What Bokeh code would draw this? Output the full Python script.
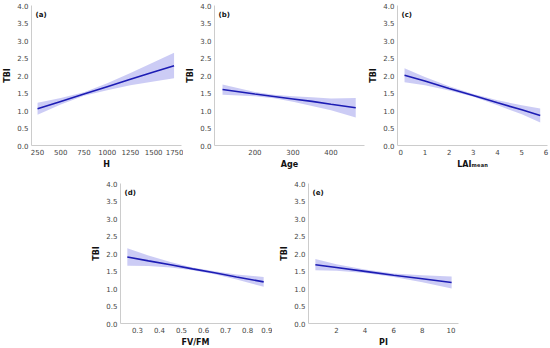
from bokeh.plotting import figure
from bokeh.layouts import row, column, Spacer
from bokeh.models import Range1d, FixedTicker, PrintfTickFormatter, Label
from bokeh.embed import file_html
from bokeh.resources import INLINE

# ---- data ----
y_label = "TBI"
y_ticks = [0.0, 0.5, 1.0, 1.5, 2.0, 2.5, 3.0, 3.5, 4.0]

# (a) H
h_x = [250, 500, 750, 1000, 1250, 1500, 1720]
h_fit = [1.05, 1.26, 1.47, 1.68, 1.89, 2.10, 2.28]
h_lo = [0.88, 1.17, 1.42, 1.58, 1.72, 1.83, 1.92]
h_hi = [1.22, 1.36, 1.52, 1.78, 2.07, 2.38, 2.65]
h_ticks = [250, 500, 750, 1000, 1250, 1500, 1750]

# (b) Age
age_x = [115, 200, 250, 300, 350, 400, 465]
age_fit = [1.60, 1.47, 1.40, 1.33, 1.26, 1.18, 1.08]
age_lo = [1.45, 1.41, 1.35, 1.25, 1.13, 1.01, 0.80]
age_hi = [1.74, 1.53, 1.45, 1.41, 1.38, 1.34, 1.36]
age_ticks = [200, 300, 400]

# (c) LAI mean
lai_x = [0.16, 1, 2, 3, 4, 5, 5.76]
lai_fit = [2.01, 1.84, 1.63, 1.43, 1.22, 1.02, 0.86]
lai_lo = [1.81, 1.72, 1.57, 1.39, 1.15, 0.89, 0.66]
lai_hi = [2.21, 1.96, 1.69, 1.47, 1.29, 1.15, 1.06]
lai_ticks = [0, 1, 2, 3, 4, 5, 6]

# (d) FV/FM
fv_x = [0.254, 0.35, 0.45, 0.55, 0.65, 0.75, 0.873]
fv_fit = [1.90, 1.79, 1.68, 1.56, 1.45, 1.33, 1.19]
fv_lo = [1.65, 1.64, 1.60, 1.52, 1.41, 1.26, 1.05]
fv_hi = [2.15, 1.94, 1.76, 1.60, 1.49, 1.40, 1.33]
fv_ticks = [0.3, 0.4, 0.5, 0.6, 0.7, 0.8, 0.9]

# (e) PI
pi_x = [0.53, 2, 4, 6, 8, 10.05]
pi_fit = [1.68, 1.60, 1.49, 1.38, 1.28, 1.17]
pi_lo = [1.52, 1.51, 1.44, 1.33, 1.18, 1.00]
pi_hi = [1.84, 1.69, 1.54, 1.43, 1.38, 1.34]
pi_ticks = [2, 4, 6, 8, 10]

FONT = "DejaVu Sans"
LINE_C = "#1c1cb4"
BAND_C = "#0000cd"


def panel(letter, xlabel, xs, fit, lo, hi, xr, xticks, xfmt, top_border):
    p = figure(frame_width=150, frame_height=140,
               x_range=Range1d(*xr), y_range=Range1d(0, 4),
               output_backend="svg", toolbar_location=None,
               min_border_left=25, min_border_right=2,
               min_border_top=top_border, min_border_bottom=22)
    p.outline_line_color = None
    p.xgrid.visible = False
    p.ygrid.visible = False
    p.background_fill_color = "white"

    p.varea(x=xs, y1=lo, y2=hi, fill_color=BAND_C, fill_alpha=0.2)
    p.line(x=xs, y=fit, line_color=LINE_C, line_width=1.6)

    for ax in (p.xaxis[0], p.yaxis[0]):
        ax.axis_line_color = "#cccccc"
        ax.axis_line_width = 1
        ax.major_tick_line_color = None
        ax.minor_tick_line_color = None
        ax.major_tick_out = 0
        ax.major_tick_in = 0
        ax.major_label_text_font = FONT
        ax.major_label_text_font_size = "7px"
        ax.major_label_text_color = "#444444"
        ax.major_label_standoff = 3
        ax.axis_label_text_font = FONT
        ax.axis_label_text_font_size = "8px"
        ax.axis_label_text_font_style = "bold"
        ax.axis_label_text_color = "#111111"
        ax.axis_label_standoff = 2

    p.yaxis[0].ticker = FixedTicker(ticks=y_ticks)
    p.yaxis[0].formatter = PrintfTickFormatter(format="%.1f")
    p.yaxis[0].axis_label = y_label
    p.xaxis[0].ticker = FixedTicker(ticks=xticks)
    if xfmt:
        p.xaxis[0].formatter = PrintfTickFormatter(format=xfmt)
    p.xaxis[0].axis_label = xlabel

    p.add_layout(Label(x=xr[0], y=4, x_offset=4, y_offset=-5,
                       text=letter, text_baseline="top",
                       text_font=FONT, text_font_size="7px",
                       text_font_style="bold", text_color="#111111"))
    return p


pa = panel("(a)", "H", h_x, h_fit, h_lo, h_hi, (185, 1800), h_ticks, None, 5)
pb = panel("(b)", "Age", age_x, age_fit, age_lo, age_hi, (94, 488), age_ticks, None, 5)
pc = panel("(c)", "LAI\u2098\u2091\u2090\u2099", lai_x, lai_fit, lai_lo, lai_hi,
           (-0.13, 6.06), lai_ticks, None, 5)
pd_ = panel("(d)", "FV/FM", fv_x, fv_fit, fv_lo, fv_hi, (0.223, 0.904), fv_ticks, "%.1f", 12)
pe = panel("(e)", "PI", pi_x, pi_fit, pi_lo, pi_hi, (0.05, 10.53), pi_ticks, None, 12)

layout = column(
    row(pa, pb, pc),
    row(Spacer(width=89), pd_, Spacer(width=5), pe),
)

open("out.html", "w").write(file_html(layout, INLINE))
